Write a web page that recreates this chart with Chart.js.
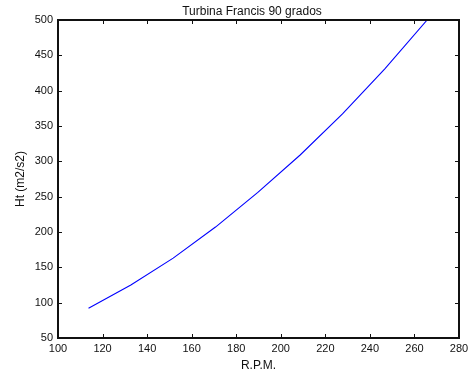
<!DOCTYPE html>
<html>
<head>
<meta charset="utf-8">
<script src="https://cdn.jsdelivr.net/npm/chart.js@4"></script>
<style>
html,body{margin:0;padding:0;background:#fff;}
#wrap{width:474px;height:373px;position:relative;}
</style>
</head>
<body>
<div id="wrap"><canvas id="c" width="474" height="373"></canvas></div>
<script>
const rpm = [113.7, 132.7, 151.7, 170.7, 189.7, 208.7, 227.7, 246.7, 265.7];
const ht = [92, 125, 163, 207, 256, 309, 367, 431, 500];
const xTicks = [100, 120, 140, 160, 180, 200, 220, 240, 260, 280];
const yTicks = [50, 100, 150, 200, 250, 300, 350, 400, 450, 500];
const titleText = 'Turbina Francis 90 grados';
const xTitle = 'R.P.M.';
const yTitle = 'Ht (m2/s2)';

const FONT = 'Liberation Sans, Arial, Helvetica, sans-serif';

const boxPlugin = {
  id: 'matlabBox',
  afterDraw(chart) {
    const {ctx, chartArea: a, scales: {x, y}} = chart;
    ctx.save();
    ctx.strokeStyle = '#111';
    ctx.lineWidth = 1;
    const tl = 4;
    ctx.beginPath();
    xTicks.forEach(v => {
      const px = Math.round(x.getPixelForValue(v)) + 0.5;
      ctx.moveTo(px, a.bottom); ctx.lineTo(px, a.bottom - tl);
      ctx.moveTo(px, a.top); ctx.lineTo(px, a.top + tl);
    });
    yTicks.forEach(v => {
      const py = Math.round(y.getPixelForValue(v)) + 0.5;
      ctx.moveTo(a.left, py); ctx.lineTo(a.left + tl, py);
      ctx.moveTo(a.right, py); ctx.lineTo(a.right - tl, py);
    });
    ctx.stroke();
    ctx.lineWidth = 2;
    ctx.strokeRect(a.left, a.top, a.right - a.left, a.bottom - a.top);
    // title, centred slightly left of the axes centre as in the reference
    ctx.fillStyle = '#111';
    ctx.font = '12px ' + FONT;
    ctx.textAlign = 'center';
    ctx.textBaseline = 'middle';
    ctx.fillText(titleText, (a.left + a.right) / 2 - 6.5, a.top - 8);
    ctx.restore();
  }
};

new Chart(document.getElementById('c'), {
  type: 'scatter',
  data: {
    datasets: [{
      data: rpm.map((v, i) => ({x: v, y: ht[i]})),
      showLine: true,
      borderColor: '#0000ff',
      borderWidth: 1.1,
      pointRadius: 0,
      tension: 0,
      fill: false
    }]
  },
  options: {
    responsive: false,
    animation: false,
    layout: {padding: {left: 0, right: 15, top: 20, bottom: 0}},
    plugins: {
      legend: {display: false},
      tooltip: {enabled: false},
      title: {display: false}
    },
    scales: {
      x: {
        type: 'linear',
        min: 100, max: 280,
        afterBuildTicks: s => { s.ticks = xTicks.map(v => ({value: v})); },
        afterFit: s => { s.height = 35; },
        grid: {display: false, drawTicks: false},
        border: {display: false},
        ticks: {color: '#111', padding: 4, maxRotation: 0, autoSkip: false,
          font: {family: FONT, size: 11}},
        title: {display: true, text: xTitle, color: '#111',
          font: {family: FONT, size: 12, lineHeight: 1.2}, padding: {top: 0, bottom: 0.3}}
      },
      y: {
        type: 'linear',
        min: 50, max: 500,
        afterBuildTicks: s => { s.ticks = yTicks.map(v => ({value: v})); },
        afterFit: s => { s.width = 58; },
        grid: {display: false, drawTicks: false},
        border: {display: false},
        ticks: {color: '#111', padding: 5, autoSkip: false,
          font: {family: FONT, size: 11}},
        title: {display: true, text: yTitle, color: '#111',
          font: {family: FONT, size: 12, lineHeight: 1.2}, padding: {top: 13.8, bottom: 0}}
      }
    }
  },
  plugins: [boxPlugin]
});
</script>
</body>
</html>
